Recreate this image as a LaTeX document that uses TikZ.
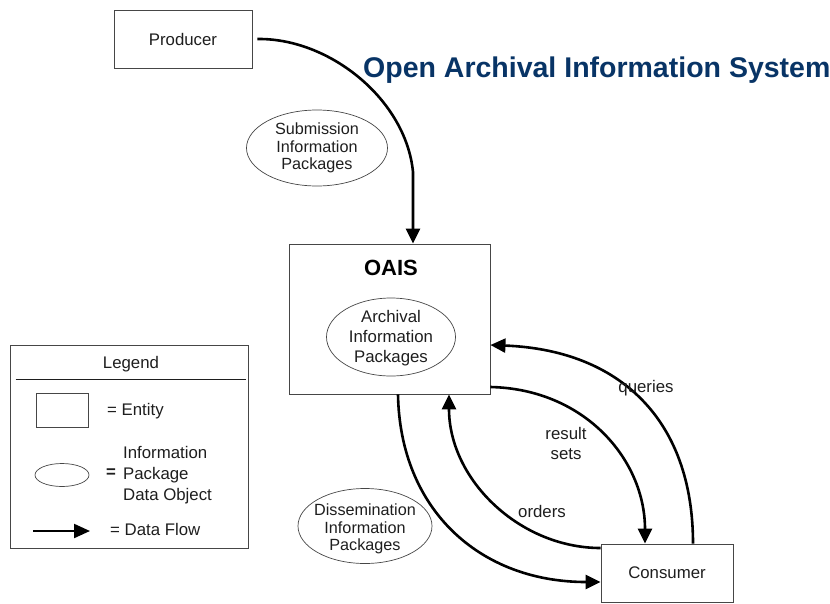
\documentclass[tikz,border=0pt]{standalone}
\usepackage{fontspec}
\setmainfont{Liberation Sans}
\usetikzlibrary{arrows.meta,shapes.geometric,calc}
\definecolor{titleblue}{RGB}{8,52,102}
\definecolor{ink}{RGB}{30,30,30}
\definecolor{edge}{RGB}{70,70,70}
\begin{document}
\begin{tikzpicture}[x=1pt,y=-1pt,
  entity/.style={draw=edge, line width=0.9pt, rectangle, inner sep=0pt},
  package/.style={draw=edge, line width=0.7pt, ellipse, inner sep=0pt},
  flow/.style={line width=2.6pt, -{Triangle[length=15pt,width=14pt]}},
  lbl/.style={font=\fontsize{16.8}{20}\selectfont, text=ink, align=center, inner sep=0pt},
  tight/.style={font=\fontsize{16.2}{17.5}\selectfont}]
\useasboundingbox (0,0) rectangle (830,603);

% title
\node[anchor=base west, inner sep=0pt, text=titleblue, font=\fontsize{28.5}{30}\selectfont\bfseries] (title) at (363,77) {Open Archival Information System};

% entities
\node[entity, minimum width=138pt, minimum height=58pt] (producer) at (183,39) {};
\node[lbl] (producerlbl) at (producer) {Producer};
\node[entity, minimum width=201pt, minimum height=150pt] (oais) at (389.5,319) {};
\node[lbl, font=\fontsize{22}{24}\selectfont\bfseries, text=black] (oaislbl) at (391,268) {OAIS};
\node[entity, minimum width=132pt, minimum height=58pt] (consumer) at (667,573) {};
\node[lbl] (consumerlbl) at (consumer) {Consumer};

% packages
\node[package, minimum width=141pt, minimum height=76pt] (sip) at (317,148) {};
\node[lbl, tight] (siplbl) at (317,148) {Submission\\Information\\Packages};
\node[package, minimum width=129pt, minimum height=78pt] (aip) at (391,337) {};
\node[lbl] (aiplbl) at (391,338) {Archival\\Information\\Packages};
\node[package, minimum width=134pt, minimum height=75pt] (dip) at (365,526) {};
\node[lbl, tight] (diplbl) at (365,529) {Dissemination\\Information\\Packages};

% flows
\draw[flow] ([xshift=5pt]producer.east) .. controls (330,38) and (406,100) .. (413,172) -- ([xshift=23.5pt]oais.north);
\draw[flow] ([xshift=26pt]consumer.north) .. controls (693,420) and (620,350) .. ([yshift=-26pt]oais.east);
\draw[flow] ([yshift=-68pt]oais.east) .. controls (585,389) and (645,460) .. ([xshift=-22pt]consumer.north);
\draw[flow] ([yshift=25pt]consumer.west) .. controls (520,548) and (449,480) .. ([xshift=59.5pt]oais.south);
\draw[flow] ([xshift=8.5pt]oais.south) .. controls (400,510) and (480,582) .. ([yshift=-9pt]consumer.west);

% flow labels
\node[lbl] (queries) at (646,388) {queries};
\node[lbl] (results) at (566,443) {result\\sets};
\node[lbl] (orders) at (542,511) {orders};

% legend
\node[entity, minimum width=238pt, minimum height=203pt] (legend) at (129,446.5) {};
\node[lbl] (legendlbl) at (131,364) {Legend};
\draw[line width=1.6pt, ink] ([xshift=6pt,yshift=-35pt]legend.north west) -- ([xshift=-2pt,yshift=-35pt]legend.north east);
\node[entity, minimum width=52pt, minimum height=34pt] (legentity) at (62,410) {};
\node[lbl, anchor=west] (legentitylbl) at (107,411) {= Entity};
\node[package, minimum width=54pt, minimum height=23pt] (legpkg) at (62,475) {};
\node[lbl, font=\fontsize{16.8}{20}\selectfont\bfseries, anchor=west] (legeq) at (106,473) {=};
\node[lbl, font=\fontsize{16.8}{21}\selectfont, align=left, anchor=west] (legpkglbl) at (123,475) {Information\\Package\\Data Object};
\coordinate (legflowa) at (33,531);
\coordinate (legflowb) at (90,531);
\draw[line width=2.2pt, -{Triangle[length=16pt,width=14pt]}] (legflowa) -- (legflowb);
\node[lbl, anchor=west] (legflowlbl) at (110,529) {= Data Flow};
\end{tikzpicture}
\end{document}
